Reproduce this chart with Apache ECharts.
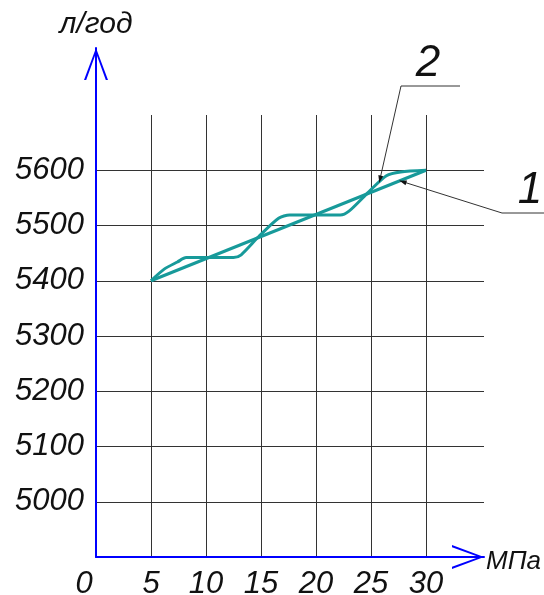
<!DOCTYPE html>
<html>
<head>
<meta charset="utf-8">
<script src="https://cdn.jsdelivr.net/npm/echarts@6/dist/echarts.min.js"></script>
<style>
html,body{margin:0;padding:0;background:#fff}
#c{width:544px;height:595px}
</style>
</head>
<body>
<div id="c"></div>
<script>
// пропускная способность, л/год от давления, МПа
var line1X = [5, 30];
var line1Y = [5400, 5600];
var line2X = [5, 6.2, 7.4, 8.2, 12.5, 13.2, 14.8, 16.6, 17.6, 22.2, 23, 24.8, 26.4, 27.7, 30];
var line2Y = [5400, 5421, 5434, 5442, 5442, 5447, 5480, 5513, 5519, 5519, 5526, 5561, 5590, 5597, 5600];
var xName = 'МПа';
var yName = 'л/год';
// где стрелки выносок касаются линий
var note1At = [27.6, 5581];
var note2At = [25.75, 5578];

function pairs(xs, ys){
  var out = [];
  for(var i=0;i<xs.length;i++){ out.push([xs[i], ys[i]]); }
  return out;
}

var font = 'Liberation Sans';
var blue = '#0000ff';
var teal = '#179a9a';
var arrowPath = 'path://M12,0 L24,32 L21.8,32 L12,5 L2.2,32 L0,32 Z';

var chart = echarts.init(document.getElementById('c'));
var option = {
  animation:false,
  backgroundColor:'#fff',
  grid:[
    {left:96, right:118, top:115, bottom:38, outerBoundsMode:'none'},   // данные + вертикальная сетка
    {left:96, right:60, top:48, bottom:38, outerBoundsMode:'none'},     // оси со стрелками
    {left:96, right:60, top:115, bottom:38, outerBoundsMode:'none'}     // горизонтальная сетка
  ],
  xAxis:[
    {
      type:'value', gridIndex:0, min:0, max:30, interval:5,
      axisLine:{show:false}, axisTick:{show:false},
      axisLabel:{
        margin:12, color:'#111', fontSize:31, fontStyle:'italic', fontFamily:font,
        formatter:function(v){ return v === 0 ? '{z|0}' : String(v); },
        rich:{z:{fontSize:31, fontStyle:'italic', fontFamily:font, color:'#111', padding:[0,24,0,0]}}
      },
      splitLine:{show:true, showMinLine:false, lineStyle:{color:'#333', width:1}}
    },
    {
      type:'value', gridIndex:1, min:0, max:1,
      axisLine:{show:true, symbol:['none', arrowPath], symbolSize:[24,32], symbolOffset:[0,-16],
        lineStyle:{color:blue, width:2}},
      axisTick:{show:false}, axisLabel:{show:false}, splitLine:{show:false},
      name:xName, nameLocation:'end', nameGap:2,
      nameTextStyle:{color:'#111', fontSize:26, fontStyle:'italic', fontFamily:font,
        verticalAlign:'top', lineHeight:10}
    },
    {
      type:'value', gridIndex:2, min:0, max:1, show:false
    }
  ],
  yAxis:[
    {
      type:'value', gridIndex:0, min:4900, max:5700, interval:100,
      axisLine:{show:false}, axisTick:{show:false},
      axisLabel:{
        showMinLabel:false, showMaxLabel:false, margin:12,
        color:'#111', fontSize:31, fontStyle:'italic', fontFamily:font,
        formatter:function(v){ return String(v); }
      },
      splitLine:{show:false}
    },
    {
      type:'value', gridIndex:1, min:0, max:1,
      axisLine:{show:true, symbol:['none', arrowPath], symbolSize:[24,32], symbolOffset:[0,-16],
        lineStyle:{color:blue, width:2}},
      axisTick:{show:false}, axisLabel:{show:false}, splitLine:{show:false},
      name:yName, nameLocation:'end', nameGap:8,
      nameTextStyle:{color:'#111', fontSize:30, fontStyle:'italic', fontFamily:font, align:'center'}
    },
    {
      type:'value', gridIndex:2, min:4900, max:5700, interval:100,
      axisLine:{show:false}, axisTick:{show:false}, axisLabel:{show:false},
      splitLine:{show:true, showMinLine:false, showMaxLine:false, lineStyle:{color:'#333', width:1}}
    }
  ],
  series:[
    {
      name:'1', type:'line', xAxisIndex:0, yAxisIndex:0, clip:false,
      data:pairs(line1X, line1Y), showSymbol:false,
      lineStyle:{color:teal, width:3}, z:5
    },
    {
      name:'2', type:'line', xAxisIndex:0, yAxisIndex:0, clip:false,
      data:pairs(line2X, line2Y), showSymbol:false, smooth:0.25,
      lineStyle:{color:teal, width:3, join:'round'}, z:5
    }
  ]
};
chart.setOption(option);

// выноски 1 и 2
function arrowHead(tip, from){
  var dx = tip[0]-from[0], dy = tip[1]-from[1];
  var len = Math.sqrt(dx*dx+dy*dy);
  dx/=len; dy/=len;
  var bx = tip[0]-dx*7, by = tip[1]-dy*7;
  var px = -dy*2.5, py = dx*2.5;
  return {type:'polygon', z:20, shape:{points:[tip,[bx+px,by+py],[bx-px,by-py]]}, style:{fill:'#111'}};
}
function leader(at, knee, end, label, lx, ly){
  return [
    {type:'polyline', z:20, shape:{points:[at, knee, end]}, style:{stroke:'#333', lineWidth:1, fill:null}},
    arrowHead(at, knee),
    {type:'text', z:20, x:lx, y:ly, style:{text:label, fill:'#111',
      font:'italic 44px "' + font + '"', align:'center', verticalAlign:'middle'}}
  ];
}
var p1 = chart.convertToPixel({gridIndex:0}, note1At);
var p2 = chart.convertToPixel({gridIndex:0}, note2At);
chart.setOption({
  graphic:[].concat(
    leader(p2, [401,86], [460,86], '2', 428, 64),
    leader(p1, [502,213], [544,213], '1', 530, 191)
  )
});
</script>
</body>
</html>
